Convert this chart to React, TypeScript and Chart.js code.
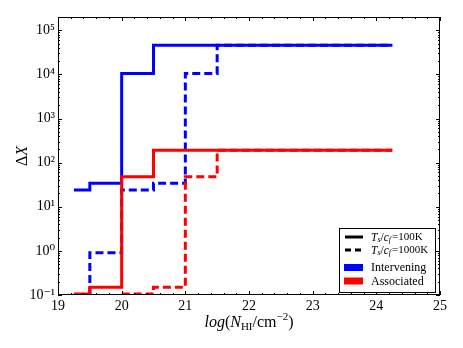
import { useEffect, useRef } from "react";
import { Chart, registerables } from "chart.js";
Chart.register(...registerables);

// log(N_HI) bin edges and Delta X values (step plots)
const blueSolidX = [19.25, 19.5, 20.0, 20.5, 24.25];
const blueSolidY = [24, 34, 1.05e4, 4.6e4, 4.6e4];
const blueDashX = [19.25, 19.5, 20.0, 20.5, 21.0, 21.5, 24.25];
const blueDashY = [0.01, 0.91, 24, 34, 1.05e4, 4.6e4, 4.6e4];
const redSolidX = [19.25, 19.5, 20.0, 20.5, 24.25];
const redSolidY = [0.105, 0.15, 48, 192, 192];
const redDashX = [20.0, 20.5, 21.0, 21.5, 24.25];
const redDashY = [0.105, 0.15, 48, 192, 192];

const X_MIN = 19;
const X_MAX = 25;
const Y_MIN = 0.1;
const Y_MAX = 2e5;
const yTickExps = [-1, 0, 1, 2, 3, 4, 5];
const supMap: Record<string, string> = { "-": "⁻", "0": "⁰", "1": "¹", "2": "²", "3": "³", "4": "⁴", "5": "⁵" };

const legendItems = [
  { kind: "solid", label: "100K" },
  { kind: "dash", label: "1000K" },
  { kind: "patch", color: "#0000ff", label: "Intervening" },
  { kind: "patch", color: "#ff0000", label: "Associated" },
];

const SERIF = "'Liberation Serif', 'DejaVu Serif', serif";

function pts(xs: number[], ys: number[]) {
  return xs.map((x, i) => ({ x, y: ys[i] }));
}

const decor = {
  id: "decor",
  afterDraw(chart: any) {
    const { ctx, chartArea: a, scales } = chart;
    const xs = scales.x;
    const ys = scales.y;
    ctx.save();
    ctx.strokeStyle = "#000";
    ctx.lineWidth = 1;
    ctx.beginPath();
    // x ticks (inward, top & bottom)
    for (let i = 0; i <= Math.round((X_MAX - X_MIN) / 0.2); i++) {
      const v = X_MIN + i * 0.2;
      const px = Math.round(xs.getPixelForValue(v)) + 0.5;
      const L = i % 5 === 0 ? 4 : 2;
      ctx.moveTo(px, a.bottom);
      ctx.lineTo(px, a.bottom - L);
      ctx.moveTo(px, a.top);
      ctx.lineTo(px, a.top + L);
    }
    // y ticks (log)
    for (let e = -1; e <= 5; e++) {
      for (let m = 1; m <= 9; m++) {
        const v = m * Math.pow(10, e);
        if (v > Y_MAX * 1.0001) break;
        const py = Math.round(ys.getPixelForValue(v)) + 0.5;
        const L = m === 1 ? 4 : 2;
        ctx.moveTo(a.left, py);
        ctx.lineTo(a.left + L, py);
        ctx.moveTo(a.right, py);
        ctx.lineTo(a.right - L, py);
      }
    }
    ctx.stroke();
    // frame
    ctx.strokeRect(Math.round(a.left) + 0.5, Math.round(a.top) + 0.5, Math.round(a.right - a.left) - 1, Math.round(a.bottom - a.top) - 1);

    // x title: log(N_HI/cm^-2)
    ctx.fillStyle = "#000";
    ctx.textBaseline = "alphabetic";
    const parts = [
      { t: "log", f: `italic 16px ${SERIF}`, dy: 0 },
      { t: "(", f: `16px ${SERIF}`, dy: 0 },
      { t: "N", f: `italic 16px ${SERIF}`, dy: 0 },
      { t: "HI", f: `11px ${SERIF}`, dy: 3 },
      { t: "/cm", f: `16px ${SERIF}`, dy: 0 },
      { t: "−2", f: `11px ${SERIF}`, dy: -7 },
      { t: ")", f: `16px ${SERIF}`, dy: 0 },
    ];
    let total = 0;
    for (const p of parts) {
      ctx.font = p.f;
      total += ctx.measureText(p.t).width;
    }
    let cx = (a.left + a.right) / 2 - total / 2;
    const base = 327;
    for (const p of parts) {
      ctx.font = p.f;
      ctx.fillText(p.t, cx, base + p.dy);
      cx += ctx.measureText(p.t).width;
    }

    // y title: ΔX rotated
    ctx.save();
    ctx.translate(27, (a.top + a.bottom) / 2);
    ctx.rotate(-Math.PI / 2);
    ctx.font = `16px ${SERIF}`;
    const w1 = ctx.measureText("Δ").width;
    ctx.font = `italic 16px ${SERIF}`;
    const w2 = ctx.measureText("X").width;
    let yx = -(w1 + w2) / 2;
    ctx.font = `16px ${SERIF}`;
    ctx.fillText("Δ", yx, 0);
    yx += w1;
    ctx.font = `italic 16px ${SERIF}`;
    ctx.fillText("X", yx, 0);
    ctx.restore();

    // legend
    const bx = 339, by = 228, bw = 96, bh = 64;
    ctx.fillStyle = "#fff";
    ctx.fillRect(bx, by, bw, bh);
    ctx.strokeStyle = "#000";
    ctx.lineWidth = 1;
    ctx.strokeRect(bx + 0.5, by + 0.5, bw, bh);
    const rowsY = [237, 250, 267.5, 281];
    legendItems.forEach((it, i) => {
      const ry = rowsY[i];
      if (it.kind === "patch") {
        ctx.fillStyle = it.color!;
        ctx.fillRect(344, ry - 3.5, 19, 7);
      } else {
        ctx.strokeStyle = "#000";
        ctx.lineWidth = 3;
        ctx.setLineDash(it.kind === "dash" ? [6, 4] : []);
        ctx.beginPath();
        ctx.moveTo(345, ry);
        ctx.lineTo(363, ry);
        ctx.stroke();
        ctx.setLineDash([]);
      }
      ctx.fillStyle = "#000";
      ctx.textBaseline = "middle";
      if (it.kind === "patch") {
        ctx.font = `12px ${SERIF}`;
        ctx.fillText(it.label, 371, ry + 0.5);
      } else {
        const segs = [
          { t: "T", f: `italic 11.5px ${SERIF}`, dy: 0 },
          { t: "s", f: `italic 8px ${SERIF}`, dy: 2 },
          { t: "/", f: `11.5px ${SERIF}`, dy: 0 },
          { t: "c", f: `italic 11.5px ${SERIF}`, dy: 0 },
          { t: "f", f: `italic 8px ${SERIF}`, dy: 2 },
          { t: "=" + it.label, f: `11px ${SERIF}`, dy: 0 },
        ];
        let lx = 371;
        for (const s of segs) {
          ctx.font = s.f;
          ctx.fillText(s.t, lx, ry + 0.5 + s.dy);
          lx += ctx.measureText(s.t).width + (s.t === "f" ? 1 : 0);
        }
      }
    });
    ctx.restore();
  },
};

export default function App() {
  const ref = useRef<HTMLCanvasElement>(null);
  useEffect(() => {
    if (!ref.current) return;
    const common = { showLine: true, stepped: "before" as const, pointRadius: 0, borderWidth: 3, fill: false };
    const chart = new Chart(ref.current, {
      type: "scatter",
      data: {
        datasets: [
          { ...common, data: pts(redDashX, redDashY), borderColor: "#ff0000", borderDash: [8, 4] },
          { ...common, data: pts(redSolidX, redSolidY), borderColor: "#ff0000" },
          { ...common, data: pts(blueDashX, blueDashY), borderColor: "#0000ff", borderDash: [8, 4] },
          { ...common, data: pts(blueSolidX, blueSolidY), borderColor: "#0000ff" },
        ],
      },
      options: {
        responsive: false,
        animation: false,
        layout: { padding: { left: 0, top: 17, right: 23, bottom: 0 } },
        plugins: { legend: { display: false }, tooltip: { enabled: false } },
        scales: {
          x: {
            type: "linear",
            min: X_MIN,
            max: X_MAX,
            grid: { display: false, drawTicks: false },
            border: { display: false },
            ticks: {
              stepSize: 1,
              padding: 3,
              color: "#000",
              font: { family: SERIF, size: 14 },
              callback: (v: any) => String(v),
            },
            afterFit: (s: any) => {
              s.height = 53;
            },
          },
          y: {
            type: "logarithmic",
            min: Y_MIN,
            max: Y_MAX,
            grid: { display: false, drawTicks: false },
            border: { display: false },
            afterBuildTicks: (s: any) => {
              s.ticks = yTickExps.map((e) => ({ value: Math.pow(10, e) }));
            },
            ticks: {
              padding: 3,
              color: "#000",
              font: { family: SERIF, size: 14 },
              autoSkip: false,
              callback: (v: any) => {
                const e = Math.round(Math.log10(Number(v)));
                return "10" + String(e).split("").map((c) => supMap[c] || c).join("");
              },
            },
            afterFit: (s: any) => {
              s.width = 58;
            },
          },
        },
      },
      plugins: [decor],
    });
    return () => chart.destroy();
  }, []);
  return (
    <div style={{ position: "absolute", left: 0, top: 0, width: 463, height: 348, background: "#fff" }}>
      <canvas ref={ref} width={463} height={348} style={{ width: 463, height: 348 }} />
    </div>
  );
}
